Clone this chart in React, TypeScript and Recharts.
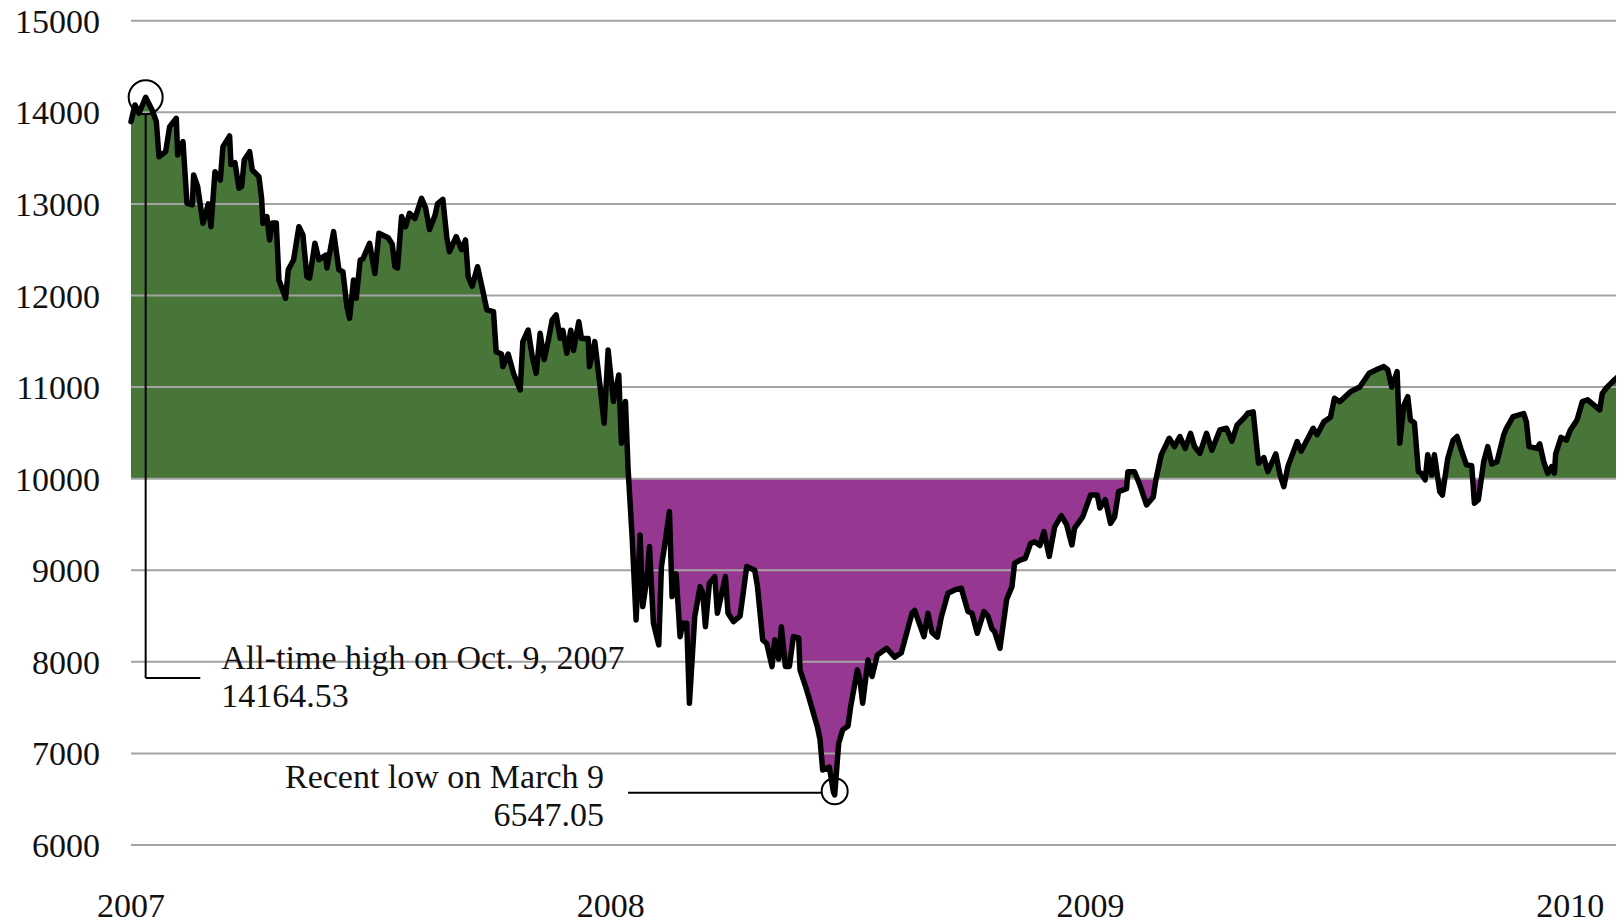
import {
  ComposedChart,
  Area,
  Line,
  XAxis,
  YAxis,
  ReferenceLine,
  ReferenceDot,
} from "recharts";

// Dow Jones close, days counted from Sep 28, 2007
const dayOffsets = [
  0, 3, 6, 11, 16, 19, 21, 26, 29, 34, 35, 39, 42, 46, 47, 50, 54, 58, 60, 63,
  67, 69, 74, 75, 78, 81, 83, 85, 89, 91, 96, 98, 99, 102, 104, 106, 109, 111,
  116, 118, 122, 126, 129, 132, 134, 138, 141, 146, 147, 152, 156, 159, 162,
  164, 167, 169, 172, 174, 179, 183, 186, 193, 196, 198, 200, 203, 206, 209,
  213, 218, 221, 224, 228, 230, 234, 237, 239, 244, 248, 251, 253, 256, 260,
  264, 267, 272, 274, 278, 279, 283, 287, 292, 294, 298, 301, 304, 307, 310,
  313, 316, 319, 322, 324, 327, 330, 332, 336, 338, 343, 344, 348, 352, 355,
  358, 362, 366, 368, 371, 373, 376, 379, 382, 384, 387, 389, 392, 396, 398,
  401, 404, 406, 409, 412, 414, 417, 419, 423, 427, 429, 431, 434, 438, 440,
  446, 448, 452, 457, 462, 468, 470, 474, 477, 481, 483, 486, 488, 491, 494,
  497, 501, 502, 507, 515, 517, 519, 524, 527, 528, 531, 534, 538, 540, 545,
  547, 549, 553, 556, 560, 567, 573, 578, 586, 588, 591, 595, 598, 601, 605,
  608, 613, 618, 623, 628, 631, 635, 640, 643, 646, 648, 652, 657, 661, 663,
  667, 671, 675, 678, 682, 685, 689, 693, 698, 702, 706, 708, 714, 720, 725,
  727, 731, 735, 738, 741, 747, 748, 753, 756, 757, 762, 767, 769, 773, 779,
  783, 787, 791, 795, 798, 802, 807, 811, 817, 822, 826, 830, 835, 838, 842,
  846, 850, 853, 859, 862, 865, 868, 875, 878, 887, 890, 895, 900, 903, 907,
  915, 922, 929, 936, 940, 943, 946, 950, 952, 955, 958, 960, 963, 966, 968,
  971, 973, 976, 978, 982, 984, 988, 992, 995, 998, 1002, 1006, 1008, 1011,
  1015, 1018, 1021, 1025, 1030, 1032, 1037, 1045, 1047, 1049, 1055, 1057,
  1060, 1063, 1066, 1068, 1069, 1073, 1077, 1080, 1085, 1089, 1093, 1102,
  1104, 1107, 1113, 1117, 1118,
];

const dowClose = [
  13898, 14080, 13989, 14164, 14020, 13898, 13515, 13570, 13843, 13934, 13534,
  13680, 13006, 12990, 13315, 13190, 12788, 13000, 12751, 13352, 13260, 13625,
  13741, 13430, 13450, 13170, 13190, 13480, 13570, 13370, 13297, 13061, 12788,
  12860, 12606, 12790, 12790, 12169, 11970, 12280, 12390, 12751, 12660, 12205,
  12190, 12570, 12390, 12440, 12300, 12697, 12280, 12260, 11878, 11751, 12170,
  11970, 12388, 12400, 12570, 12240, 12679, 12630, 12560, 12314, 12300, 12861,
  12750, 12897, 12840, 13061, 12960, 12720, 12870, 13000, 13050, 12628, 12478,
  12642, 12500, 12606, 12205, 12100, 12314, 12050, 11842, 11823, 11386, 11360,
  11223, 11360, 11150, 10968, 11496, 11623, 11340, 11150, 11587, 11300, 11500,
  11733, 11787, 11533, 11620, 11369, 11620, 11400, 11714, 11530, 11530, 11223,
  11496, 11005, 10605, 11405, 10842, 11132, 10387, 10842, 10100, 9367, 8457,
  9385, 8603, 8900, 9258, 8421, 8185, 9040, 9330, 9640, 8712, 8960, 8275, 8420,
  8420, 7548, 8494, 8821, 8750, 8384, 8860, 8930, 8530, 8930, 8530, 8439, 8500,
  9040, 9000, 8830, 8239, 8200, 7948, 8240, 8030, 8384, 7950, 7950, 8275, 8260,
  7912, 7693, 7292, 7150, 6820, 6850, 6583, 6547, 7110, 7257, 7300, 7511, 7912,
  7800, 7548, 8020, 7840, 8075, 8148, 8050, 8100, 8530, 8560, 8440, 8275, 8530,
  8320, 8270, 8490, 8749, 8785, 8803, 8549, 8530, 8312, 8549, 8500, 8360, 8330,
  8148, 8680, 8821, 9076, 9110, 9130, 9294, 9310, 9270, 9422, 9151, 9470, 9595,
  9500, 9276, 9460, 9580, 9822, 9822, 9680, 9770, 9512, 9580, 9858, 9890,
  10076, 10076, 9967, 9930, 9713, 9800, 9986, 10259, 10441, 10350, 10460,
  10330, 10495, 10350, 10277, 10495, 10310, 10532, 10550, 10410, 10587, 10660,
  10714, 10730, 10168, 10230, 10076, 10270, 10050, 9913, 10130, 10404, 10300,
  10550, 10480, 10620, 10670, 10878, 10840, 10950, 11000, 11150, 11200, 11223,
  11190, 11000, 11168, 10387, 10800, 10895, 10640, 10610, 10076, 10060, 9986,
  10260, 10040, 10260, 9858, 9820, 10220, 10420, 10460, 10320, 10150, 10140,
  9732, 9770, 10185, 10350, 10160, 10185, 10477, 10550, 10677, 10710, 10620,
  10350, 10330, 10380, 10185, 10059, 10130, 10060, 10270, 10450, 10420, 10532,
  10640, 10841, 10860, 10750, 10932, 10990, 11077, 11132, 11100,
];

const yTicks = [6000, 7000, 8000, 9000, 10000, 11000, 12000, 13000, 14000, 15000];
const xTickDays = [0, 360, 720, 1080];
const xTickLabels = ["2007", "2008", "2009", "2010"];

const BASE = 10000;
const highDay = 11;
const highValue = 14164.53;
const lowDay = 528;
const lowValue = 6547.05;

const FONT = "'Liberation Serif', 'Times New Roman', serif";
const GREEN = "#487538";
const PURPLE = "#963891";

const data = dayOffsets.map((d, i) => ({ day: d, close: dowClose[i] }));

const maxClose = Math.max(...dowClose);
const minClose = Math.min(...dowClose);
const splitOffset = (maxClose - BASE) / (maxClose - minClose);

const textStyle = { fontFamily: FONT, fontSize: 34, fill: "#111" };

function HighLabel(props: any) {
  const vb = props.viewBox;
  const x = vb.x + vb.width + 21;
  return (
    <g>
      <text x={x} y={vb.y - 9} style={textStyle}>
        All-time high on Oct. 9, 2007
      </text>
      <text x={x} y={vb.y + 29} style={textStyle}>
        14164.53
      </text>
    </g>
  );
}

function LowLabel(props: any) {
  const vb = props.viewBox;
  const x = vb.x - 24;
  return (
    <g>
      <text x={x} y={vb.y - 5} textAnchor="end" style={textStyle}>
        Recent low on March 9
      </text>
      <text x={x} y={vb.y + 33} textAnchor="end" style={textStyle}>
        6547.05
      </text>
    </g>
  );
}

export default function App() {
  return (
    <div style={{ width: 1616, height: 915, fontFamily: FONT }}>
      <style>{".recharts-surface{overflow:visible}"}</style>
      <ComposedChart
        width={1616}
        height={915}
        data={data}
        margin={{ top: 12.7, right: 3, bottom: 0, left: 0 }}
      >
        <defs>
          <linearGradient id="dowFill" x1="0" y1="0" x2="0" y2="1">
            <stop offset={splitOffset} stopColor={GREEN} />
            <stop offset={splitOffset} stopColor={PURPLE} />
          </linearGradient>
        </defs>

        <XAxis
          dataKey="day"
          type="number"
          domain={[0, 1118]}
          ticks={xTickDays}
          interval={0}
          tickFormatter={(v: number) => xTickLabels[xTickDays.indexOf(v)]}
          axisLine={false}
          tickLine={false}
          tickSize={0}
          tickMargin={48}
          height={78}
          tick={{ fontFamily: FONT, fontSize: 34, fill: "#111" }}
        />
        <YAxis
          type="number"
          domain={[6000, 15000]}
          ticks={yTicks}
          interval={0}
          axisLine={false}
          tickLine={false}
          tickSize={0}
          tickMargin={31}
          width={123}
          tick={{ fontFamily: FONT, fontSize: 34, fill: "#111" }}
        />

        <Area
          type="linear"
          dataKey="close"
          baseValue={BASE}
          fill="url(#dowFill)"
          fillOpacity={1}
          stroke="none"
          isAnimationActive={false}
        />

        {yTicks.map((t) => (
          <ReferenceLine key={t} y={t} stroke="#a3a3a3" strokeWidth={2} />
        ))}

        <ReferenceLine
          segment={[
            { x: highDay, y: 13980 },
            { x: highDay, y: 7824 },
          ]}
          stroke="#000"
          strokeWidth={2}
        />
        <ReferenceLine
          segment={[
            { x: highDay, y: 7824 },
            { x: 52, y: 7824 },
          ]}
          stroke="#000"
          strokeWidth={2}
          label={HighLabel}
        />
        <ReferenceLine
          segment={[
            { x: 373, y: 6570 },
            { x: 518, y: 6570 },
          ]}
          stroke="#000"
          strokeWidth={2}
          label={LowLabel}
        />

        <Line
          type="linear"
          dataKey="close"
          stroke="#000"
          strokeWidth={5.5}
          strokeLinejoin="round"
          strokeLinecap="round"
          dot={false}
          activeDot={false}
          isAnimationActive={false}
        />

        <ReferenceDot
          x={highDay}
          y={highValue}
          r={17}
          fill="none"
          stroke="#000"
          strokeWidth={2}
        />
        <ReferenceDot
          x={lowDay}
          y={lowValue + 40}
          r={13}
          fill="none"
          stroke="#000"
          strokeWidth={2}
        />
      </ComposedChart>
    </div>
  );
}
